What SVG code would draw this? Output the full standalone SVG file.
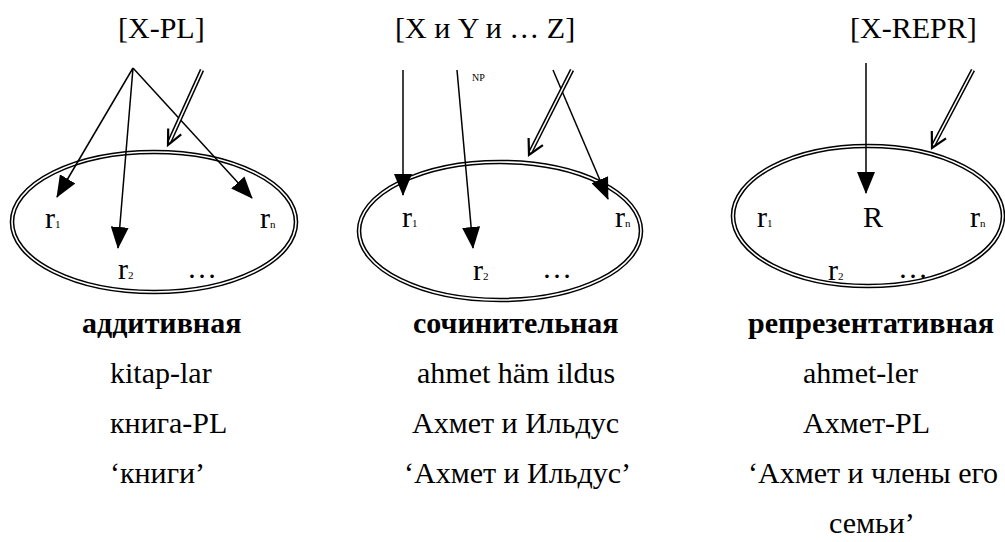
<svg xmlns="http://www.w3.org/2000/svg" width="1005" height="542" viewBox="0 0 1005 542" font-family="'Liberation Serif', 'Times New Roman', serif">
<style>
text{font-family:"Liberation Serif","Times New Roman",serif;font-size:30px;fill:#000}
.b{font-weight:bold}
.s{font-size:11px}
.np{font-size:10px}
.eo{fill:none;stroke:#000;stroke-width:4.6}
.ei{fill:none;stroke:#fff;stroke-width:1.6}
.ln{fill:none;stroke:#000;stroke-width:1.5}
.dbo{fill:none;stroke:#000;stroke-width:4.6}
.dbi{fill:none;stroke:#fff;stroke-width:1.6}
.hd{fill:none;stroke:#000;stroke-width:2.2;stroke-linejoin:miter}
</style>
<defs>
<marker id="ah" markerUnits="userSpaceOnUse" markerWidth="22" markerHeight="18" refX="21" refY="9" orient="auto">
<path d="M0,0 L22,9 L0,18 z" fill="#000"/>
</marker>
</defs>
<rect width="1005" height="542" fill="#fff"/>

<g id="label-xpl"><text x="118" y="38">[X-PL]</text></g>
<g id="label-xyz"><text x="395" y="38">[X и Y и … Z]</text><text class="np" x="472" y="81">NP</text></g>
<g id="label-xrepr"><text x="850" y="38">[X-REPR]</text></g>

<g id="set-additive">
<ellipse class="eo" cx="154" cy="222" rx="142" ry="70"/>
<ellipse class="ei" cx="154" cy="222" rx="142" ry="70"/>
<text x="45" y="228">r<tspan class="s">1</tspan></text>
<text x="260" y="228">r<tspan class="s">n</tspan></text>
<text x="118" y="279">r<tspan class="s">2</tspan></text>
<text x="187" y="278">…</text>
</g>

<g id="set-coord">
<ellipse class="eo" cx="500" cy="231" rx="141" ry="69"/>
<ellipse class="ei" cx="500" cy="231" rx="141" ry="69"/>
<text x="402" y="227">r<tspan class="s">1</tspan></text>
<text x="615" y="227">r<tspan class="s">n</tspan></text>
<text x="473" y="280">r<tspan class="s">2</tspan></text>
<text x="542" y="278">…</text>
</g>

<g id="set-repr">
<ellipse class="eo" cx="868" cy="216" rx="135" ry="70"/>
<ellipse class="ei" cx="868" cy="216" rx="135" ry="70"/>
<text x="757" y="227">r<tspan class="s">1</tspan></text>
<text x="863" y="227">R</text>
<text x="970" y="227">r<tspan class="s">n</tspan></text>
<text x="828" y="280">r<tspan class="s">2</tspan></text>
<text x="898" y="278">…</text>
</g>

<g id="connectors">
<line class="ln" x1="133" y1="68" x2="57" y2="197" marker-end="url(#ah)"/>
<line class="ln" x1="133" y1="68" x2="118" y2="248" marker-end="url(#ah)"/>
<line class="ln" x1="133" y1="68" x2="252" y2="198" marker-end="url(#ah)"/>
<line class="dbo" x1="202" y1="70" x2="169.2" y2="142.3"/>
<line class="dbi" x1="202" y1="70" x2="169.2" y2="142.3"/>
<polyline class="hd" points="181.2,134.4 168,145 168.2,128.6"/>

<line class="ln" x1="403" y1="70" x2="403" y2="195" marker-end="url(#ah)"/>
<line class="ln" x1="457" y1="70" x2="473" y2="248" marker-end="url(#ah)"/>
<line class="ln" x1="553" y1="70" x2="608" y2="199" marker-end="url(#ah)"/>
<line class="dbo" x1="572" y1="70" x2="530.4" y2="152.3"/>
<line class="dbi" x1="572" y1="70" x2="530.4" y2="152.3"/>
<polyline class="hd" points="542.9,145.2 529,155 528.6,138.0"/>

<line class="ln" x1="866" y1="63" x2="866" y2="193" marker-end="url(#ah)"/>
<line class="dbo" x1="973" y1="70" x2="933.4" y2="145.3"/>
<line class="dbi" x1="973" y1="70" x2="933.4" y2="145.3"/>
<polyline class="hd" points="946.0,138.4 932,148 931.8,131.0"/>
</g>

<g id="caption-additive">
<text class="b" x="82" y="333">аддитивная</text>
<text x="110" y="383">kitap-lar</text>
<text x="110" y="433">книга-PL</text>
<text x="110" y="483">‘книги’</text>
</g>
<g id="caption-coord">
<text class="b" x="413" y="333">сочинительная</text>
<text x="417" y="383">ahmet häm ildus</text>
<text x="412" y="433">Ахмет и Ильдус</text>
<text x="404" y="483">‘Ахмет и Ильдус’</text>
</g>
<g id="caption-repr">
<text class="b" x="748" y="333">репрезентативная</text>
<text x="803" y="383">ahmet-ler</text>
<text x="803" y="433">Ахмет-PL</text>
<text x="748" y="483">‘Ахмет и члены его</text>
<text x="829" y="533">семьи’</text>
</g>
</svg>
